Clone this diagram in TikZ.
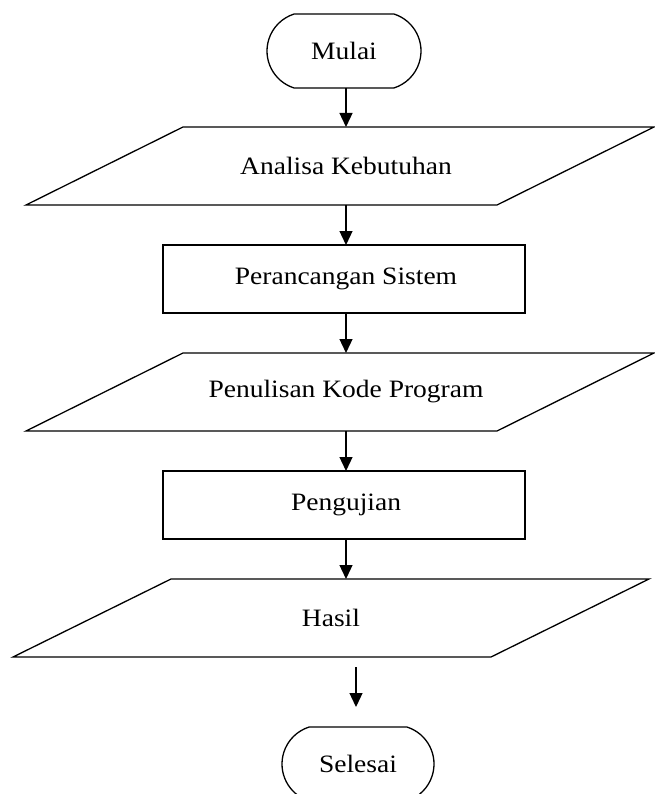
\documentclass[tikz,border=0pt]{standalone}
\usepackage{fontspec}
\setmainfont{Liberation Serif}[FakeStretch=1.1]
\usetikzlibrary{shapes.misc,arrows.meta}
\begin{document}
\begin{tikzpicture}[x=1pt,y=-1pt,
  every node/.style={font=\fontsize{25}{29}\selectfont, line width=1.3pt, inner sep=0pt, outer sep=0pt},
  term/.style={draw, rounded rectangle, rounded rectangle arc length=145, minimum width=154pt, minimum height=74pt},
  procbox/.style={draw, rectangle, minimum width=362pt, minimum height=68pt},
  iobox/.style={rectangle, minimum height=78pt},
  iopath/.style={line width=1.3pt, line join=miter},
  arr/.style={line width=1.3pt, -{Triangle[length=14pt,width=13pt]}}]
\useasboundingbox (0,0) rectangle (654,794);
\fill[white] (0,0) rectangle (654,794);
\coordinate (axis) at (346,0);
\coordinate (axisb) at (356,0);
\node[term] (mulai) at (344,51) {Mulai};
\node[iobox, minimum width=628pt] (analisa) at (340,166) {\hspace*{12pt}Analisa Kebutuhan};
\draw[iopath] (analisa.south west) -- ([xshift=157pt]analisa.north west) -- (analisa.north east) -- ([xshift=-157pt]analisa.south east) -- cycle;
\node[procbox] (perancangan) at (344,279) {\hspace*{4pt}Perancangan Sistem};
\node[iobox, minimum width=628pt] (penulisan) at (340,392) {\hspace*{12pt}Penulisan Kode Program};
\draw[iopath] (penulisan.south west) -- ([xshift=157pt]penulisan.north west) -- (penulisan.north east) -- ([xshift=-157pt]penulisan.south east) -- cycle;
\node[procbox] (pengujian) at (344,505) {\hspace*{4pt}Pengujian};
\node[iobox, minimum width=636pt] (hasil) at (331,618) {Hasil};
\draw[iopath] (hasil.south west) -- ([xshift=158pt]hasil.north west) -- (hasil.north east) -- ([xshift=-158pt]hasil.south east) -- cycle;
\begin{scope}
\clip (0,0) rectangle (654,794);
\node[term, minimum width=152pt] (selesai) at (358,764) {Selesai};
\end{scope}
\draw[arr] (mulai.south -| axis) -- (analisa.north -| axis);
\draw[arr] (analisa.south -| axis) -- (perancangan.north -| axis);
\draw[arr] (perancangan.south -| axis) -- (penulisan.north -| axis);
\draw[arr] (penulisan.south -| axis) -- (pengujian.north -| axis);
\draw[arr] (pengujian.south -| axis) -- (hasil.north -| axis);
\draw[arr] ([yshift=-10pt]hasil.south -| axisb) -- ([yshift=20pt]selesai.north -| axisb);
\end{tikzpicture}
\end{document}
